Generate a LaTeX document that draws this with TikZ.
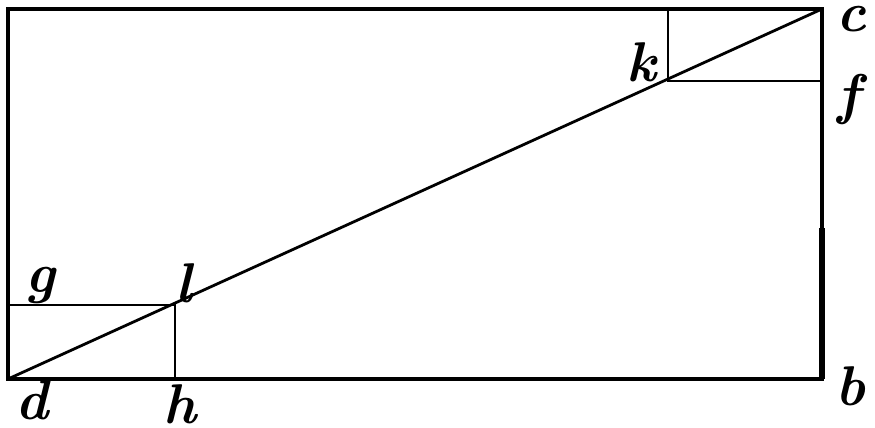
\documentclass[tikz,border=0pt]{standalone}
\begin{document}
\begin{tikzpicture}[x=1pt,y=-1pt,
  lab/.style={inner sep=0pt,font=\fontsize{56}{56}\selectfont\bfseries\itshape},
  frame/.style={line width=3.8pt,line cap=rect},
  thin/.style={line width=2.5pt}]
\useasboundingbox (0,0) rectangle (875,428);
\coordinate (A) at (8,9);
\coordinate (C) at (822,9);
\coordinate (B) at (822,379);
\coordinate (D) at (8,379);
\coordinate (L) at (175,305);
\coordinate (K) at (668,81);
\coordinate (G) at (8,305);
\coordinate (H) at (175,379);
\coordinate (KT) at (668,9);
\coordinate (F) at (822,81);
\draw[frame] (A) -- (C) -- (B) -- (D) -- cycle;
\draw[line width=5.5pt] (822,228) -- (B);
\draw[line width=2.8pt] (D) -- (C);
\draw[thin] (G) -- (L) -- (H);
\draw[thin] (KT) -- (K) -- (F);
\node[lab] (la) at (16,-20) {a};
\node[lab] (lc) at (851,19) {c};
\node[lab] (lf) at (849,99) {f};
\node[lab] (lb) at (850,386) {b};
\node[lab] (ld) at (32,400) {d};
\node[lab] (lh) at (180,404) {h};
\node[lab] (lg) at (40,285) {g};
\node[lab] (ll) at (184,283) {l};
\node[lab] (lk) at (641,62) {k};
\end{tikzpicture}
\end{document}
